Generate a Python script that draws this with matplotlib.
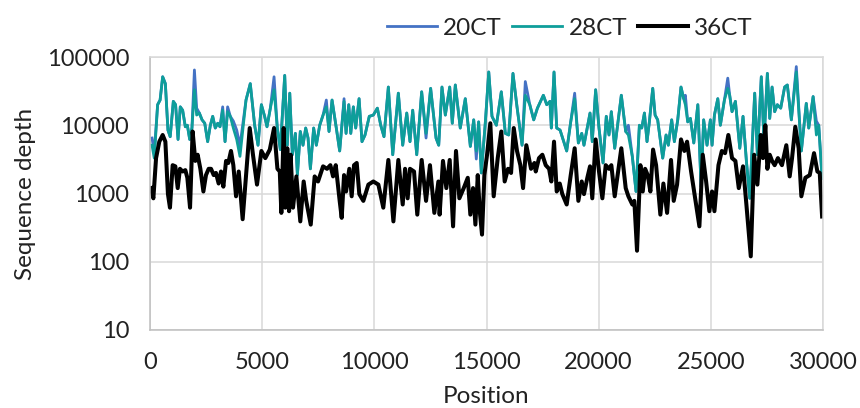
import matplotlib
matplotlib.use("Agg")
import matplotlib.pyplot as plt
from matplotlib.ticker import FixedLocator, FixedFormatter

plt.rcParams['font.family'] = ['Lato', 'DejaVu Sans']

pos_hi = [90, 190, 340, 450, 565, 685, 800, 900, 1040, 1140, 1250, 1350, 1455, 1575, 1665, 1770, 1870, 1980, 2080, 2200,
          2320, 2440, 2570, 2690, 2795, 2910, 3020, 3120, 3240, 3345, 3460, 3580, 3715, 3865, 4010, 4280, 4470, 4665, 4815, 4965,
          5110, 5215, 5365, 5530, 5675, 5810, 6005, 6120, 6230, 6345, 6480, 6570, 6700, 6820, 6940, 7045, 7150, 7295, 7415, 7565,
          7715, 7860, 7980, 8115, 8305, 8455, 8650, 8740, 8860, 8950, 9065, 9170, 9320, 9450, 9585, 9775, 9955, 10135, 10285, 10430,
          10625, 10820, 11070, 11265, 11445, 11590, 11710, 11890, 12110, 12305, 12510, 12750, 12870, 13015, 13165, 13360, 13475, 13610, 13830, 14055,
          14280, 14430, 14545, 14650, 14770, 14950, 15100, 15245, 15440, 15660, 15840, 15990, 16180, 16360, 16585, 16730, 16930, 17105, 17270, 17535,
          17685, 17830, 17890, 18010, 18130, 18280, 18575, 18755, 18930, 19095, 19245, 19345, 19615, 19715, 19865, 20015, 20195, 20340, 20460, 20565,
          20715, 21010, 21205, 21325, 21500, 21665, 21815, 21920, 22040, 22155, 22260, 22410, 22515, 22630, 22855, 23005, 23105, 23255, 23375, 23525,
          23670, 23790, 23865, 23970, 24090, 24240, 24420, 24565, 24680, 24830, 24980, 25055, 25160, 25310, 25425, 25605, 25755, 25840, 25945, 26095,
          26290, 26435, 26585, 26735, 26955, 27075, 27250, 27370, 27520, 27625, 27730, 27845, 27965, 28115, 28290, 28410, 28590, 28810, 29035, 29255,
          29365, 29560, 29705, 29810, 29960]

depth_28ct = [5100, 3300, 20000, 23400, 51300, 40700, 8500, 6800, 22400, 20000, 6200, 18600, 16600, 9500, 10000, 6200, 9100, 33100, 14100, 15100,
              12000, 10700, 5750, 10000, 13500, 9100, 10700, 9500, 16600, 5750, 15800, 13500, 9100, 6200, 3500, 23400, 40700, 10000, 5100, 20000,
              13500, 9500, 17800, 33100, 9100, 4400, 53700, 5100, 29500, 3700, 7600, 1860, 8100, 5100, 9100, 6500, 2300, 9100, 5100, 10000,
              14100, 18600, 8100, 23400, 9100, 4200, 22400, 7600, 20000, 7600, 18600, 9100, 24500, 5750, 7200, 13500, 14100, 17800, 10000, 6800,
              36300, 3700, 29500, 5100, 15100, 5750, 16600, 3700, 30900, 7600, 34700, 6500, 5100, 36300, 14100, 36300, 10700, 38900, 9100, 24500,
              4900, 12000, 4200, 11200, 2000, 11200, 60300, 13500, 10000, 30900, 7600, 7200, 57500, 18600, 5100, 27500, 20000, 12000, 17800, 27500,
              20000, 22400, 9100, 60300, 9100, 8500, 4200, 11200, 24500, 5500, 7600, 5100, 15100, 5750, 33100, 9100, 2800, 13500, 7200, 15800,
              4600, 27500, 8100, 7200, 3500, 1070, 10000, 9100, 15100, 5750, 11200, 34700, 14100, 12000, 3300, 7200, 5100, 12000, 5750, 12000,
              36300, 24500, 20000, 11200, 12600, 5500, 20000, 1260, 12000, 5100, 12000, 5100, 14100, 24500, 10000, 23400, 34700, 27500, 15800, 22400,
              4600, 13500, 3000, 850, 29500, 3700, 51300, 5750, 57500, 12600, 36300, 15800, 20000, 17800, 36300, 38900, 12000, 60300, 4200, 20900,
              9100, 26300, 7200, 10000, 1660]

depth_20ct = [6500, 4000, 20000, 23400, 51300, 40700, 8500, 6800, 22400, 20000, 6200, 18600, 16600, 9500, 10000, 6200, 9100, 64600, 17800, 15100,
              12000, 10700, 5750, 10000, 13500, 9100, 10700, 9500, 18600, 5750, 18600, 13500, 11500, 8500, 5000, 23400, 40700, 10000, 5100, 20000,
              13500, 9500, 17800, 51300, 9100, 4400, 53700, 5100, 29500, 3700, 7600, 1860, 8100, 5100, 9100, 6500, 2300, 9100, 5100, 10000,
              14100, 23400, 8100, 23400, 9100, 4200, 24500, 7600, 20000, 7600, 18600, 9100, 24500, 5750, 7200, 13500, 14100, 17800, 10000, 6800,
              36300, 3700, 29500, 5100, 15100, 5750, 16600, 3700, 30900, 6500, 34700, 6500, 5100, 36300, 14100, 36300, 10700, 38900, 9100, 24500,
              4900, 12000, 3200, 11200, 2000, 11200, 60300, 13500, 10000, 30900, 7600, 7200, 57500, 18600, 5100, 43700, 20000, 12000, 17800, 27500,
              20000, 22400, 9100, 60300, 9100, 8500, 4200, 11200, 29500, 5500, 7600, 5100, 15100, 5750, 33100, 9100, 2800, 13500, 7200, 15800,
              4600, 27500, 8100, 10000, 3500, 1070, 10000, 9100, 15100, 5750, 11200, 34700, 14100, 12000, 3300, 7200, 5100, 12000, 5750, 12000,
              36300, 24500, 27500, 11200, 12600, 5500, 20000, 1260, 12000, 5100, 12000, 5100, 14100, 24500, 10000, 23400, 49000, 27500, 15800, 22400,
              4600, 13500, 3000, 850, 29500, 3700, 51300, 5750, 57500, 12600, 36300, 15800, 20000, 17800, 36300, 38900, 12000, 72400, 4200, 20900,
              9100, 26300, 11500, 10000, 1660]

pos_36 = [45, 150, 270, 415, 565, 685, 800, 890, 1010, 1130, 1235, 1335, 1455, 1575, 1665, 1785, 1900, 2020, 2125, 2245,
          2380, 2495, 2615, 2720, 2840, 2940, 3060, 3165, 3270, 3390, 3490, 3610, 3715, 3835, 3955, 4130, 4445, 4590, 4770, 4965,
          5140, 5340, 5530, 5680, 5785, 5855, 5960, 6035, 6120, 6200, 6270, 6375, 6525, 6700, 6850, 6965, 7165, 7340, 7490, 7715,
          7890, 8040, 8160, 8280, 8455, 8545, 8650, 8740, 8885, 8990, 9095, 9215, 9330, 9510, 9735, 9955, 10180, 10400, 10625, 10850,
          11070, 11265, 11370, 11485, 11590, 11770, 11915, 12110, 12305, 12480, 12675, 12855, 12910, 13060, 13210, 13360, 13510, 13640, 13790, 13985,
          14165, 14280, 14400, 14505, 14610, 14700, 14800, 14905, 15025, 15170, 15320, 15500, 15660, 15810, 15960, 16095, 16215, 16360, 16510, 16630,
          16775, 16985, 17135, 17195, 17340, 17490, 17640, 17790, 17890, 18010, 18130, 18265, 18380, 18575, 18755, 18930, 19095, 19245, 19345, 19495,
          19615, 19715, 19865, 20015, 20165, 20315, 20460, 20565, 20715, 21010, 21205, 21325, 21500, 21590, 21710, 21860, 21965, 22070, 22185, 22305,
          22425, 22560, 22750, 22885, 23050, 23225, 23345, 23495, 23670, 23820, 23940, 24120, 24345, 24490, 24640, 24790, 24935, 25055, 25160, 25340,
          25490, 25635, 25780, 25945, 26095, 26245, 26435, 26585, 26780, 26930, 27075, 27225, 27325, 27430, 27520, 27625, 27730, 27845, 27990, 28170,
          28365, 28515, 28620, 28765, 28915, 29035, 29215, 29410, 29600, 29750, 29855, 29960]

depth_36ct = [1200, 850, 3300, 5750, 7200, 5750, 980, 620, 2600, 2500, 1200, 2300, 2100, 2200, 1700, 620, 8100, 3000, 3700, 2300,
              1070, 1860, 2300, 2300, 1860, 2000, 1400, 2100, 1260, 3000, 2800, 4200, 2600, 910, 2100, 420, 9100, 3700, 1350, 4200,
              3300, 4400, 9100, 2300, 2100, 520, 9100, 620, 4600, 550, 3700, 620, 1780, 390, 1500, 780, 350, 1780, 1500, 2500,
              2300, 2600, 1780, 2600, 780, 440, 1860, 1070, 2300, 910, 2600, 2800, 980, 780, 1350, 1500, 1350, 620, 3100, 390,
              3100, 690, 2300, 850, 2300, 2100, 490, 3100, 780, 2600, 520, 1500, 490, 3000, 1200, 3100, 330, 4200, 850, 1200,
              1700, 490, 1200, 350, 1860, 550, 250, 1860, 3700, 10700, 910, 3300, 8100, 1500, 2300, 2000, 9100, 4200, 2600, 1200,
              5100, 2300, 2800, 2100, 3300, 3700, 2600, 2300, 1500, 5750, 1070, 1400, 980, 690, 1860, 4600, 780, 1500, 980, 1700,
              2500, 850, 6200, 2100, 850, 2600, 2300, 2600, 910, 4600, 1200, 910, 690, 780, 145, 2600, 1070, 2300, 1860, 1070,
              4400, 2600, 490, 1400, 520, 3100, 780, 1350, 6200, 4200, 5750, 2100, 690, 330, 3700, 1500, 550, 1070, 550, 2600,
              4200, 3900, 7200, 3300, 3000, 1200, 2500, 690, 120, 3700, 1350, 7200, 3300, 10000, 2300, 3700, 3000, 2600, 3300, 2600,
              5100, 1780, 3300, 9500, 4600, 910, 1700, 1860, 3900, 2100, 2000, 460]

series_names = ["20CT", "28CT", "36CT"]
colors = ["#4472C4", "#0E9E9A", "#000000"]

x_ticks = [0, 5000, 10000, 15000, 20000, 25000, 30000]
y_ticks = [10, 100, 1000, 10000, 100000]

fig = plt.figure(figsize=(8.6, 4.08), dpi=100)
ax = fig.add_axes([150/860, 1 - 330/408, (823-150)/860, (330-57)/408])

ax.plot(pos_hi, depth_20ct, color=colors[0], lw=2.0, label=series_names[0], solid_joinstyle='round')
ax.plot(pos_hi, depth_28ct, color=colors[1], lw=2.0, label=series_names[1], solid_joinstyle='round')
ax.plot(pos_36, depth_36ct, color=colors[2], lw=2.9, label=series_names[2], solid_joinstyle='round')

ax.set_yscale('log')
ax.set_ylim(10, 100000)
ax.set_xlim(0, 30000)
ax.yaxis.set_major_locator(FixedLocator(y_ticks))
ax.yaxis.set_major_formatter(FixedFormatter([str(v) for v in y_ticks]))
ax.yaxis.set_minor_locator(FixedLocator([]))
ax.set_xticks(x_ticks)
ax.set_xticklabels([str(v) for v in x_ticks])

ax.grid(True, color='#d9d9d9', lw=1.1)
ax.set_axisbelow(True)
for s in ax.spines.values():
    s.set_color('#d9d9d9')
    s.set_linewidth(1.1)
ax.spines['left'].set_color('#bfbfbf')
ax.spines['bottom'].set_color('#bfbfbf')

ax.tick_params(axis='both', length=0, labelsize=17, colors='#222222')
ax.tick_params(axis='y', pad=15)
ax.tick_params(axis='x', pad=16)

ax.set_xlabel("Position", fontsize=17.5, color='#222222')
ax.set_ylabel("Sequence depth", fontsize=17.5, color='#222222')
ax.xaxis.set_label_coords(0.5, -0.205)
ax.yaxis.set_label_coords(-0.17, 0.5)

leg = ax.legend(loc='center left', bbox_to_anchor=(0.352, 1.106), ncol=3, frameon=False,
                fontsize=17.5, handlelength=2.05, handletextpad=0.25, columnspacing=0.45,
                borderaxespad=0, borderpad=0)
for t in leg.get_texts():
    t.set_color('#222222')

fig.savefig("out.png", dpi=100)
